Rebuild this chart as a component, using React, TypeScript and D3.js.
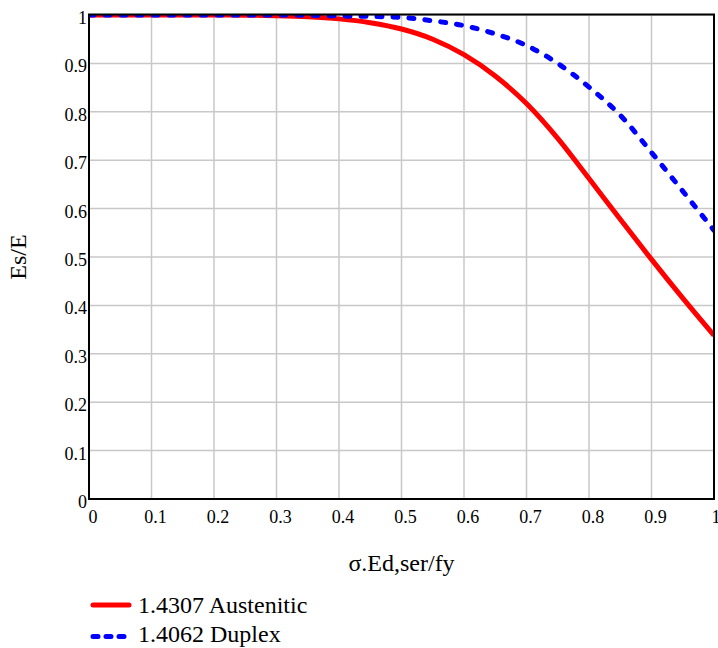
import React from "react";
import * as d3 from "d3";

const xValues = [0, 0.05, 0.1, 0.15, 0.2, 0.25, 0.3, 0.35, 0.4, 0.45, 0.5, 0.55, 0.6, 0.65, 0.7, 0.75, 0.8, 0.85, 0.9, 0.95, 1];
const austenitic = [1, 1, 1, 1, 0.9999, 0.9995, 0.9986, 0.9965, 0.992, 0.984, 0.971, 0.95, 0.918, 0.874, 0.817, 0.745, 0.662, 0.578, 0.495, 0.415, 0.338];
const duplex = [1, 1, 1, 1, 1, 1, 1, 0.9995, 0.998, 0.997, 0.995, 0.988, 0.978, 0.961, 0.937, 0.9, 0.851, 0.793, 0.716, 0.636, 0.555];
const xTicks = [0, 0.1, 0.2, 0.3, 0.4, 0.5, 0.6, 0.7, 0.8, 0.9, 1];
const xTickLabels = ["0", "0.1", "0.2", "0.3", "0.4", "0.5", "0.6", "0.7", "0.8", "0.9", "1"];
const yTicks = [0, 0.1, 0.2, 0.3, 0.4, 0.5, 0.6, 0.7, 0.8, 0.9, 1];
const yTickLabels = ["0", "0.1", "0.2", "0.3", "0.4", "0.5", "0.6", "0.7", "0.8", "0.9", "1"];
const seriesNames = ["1.4307 Austenitic", "1.4062 Duplex"];
const xTitle = "σ.Ed,ser/fy";
const yTitle = "Es/E";

const W = 718;
const H = 648;
const L = 89, R = 714, T = 15, B = 499;
const FONT = "'Liberation Serif', 'Times New Roman', serif";

export default function App() {
  const x = d3.scaleLinear().domain([0, 1]).range([L, R]);
  const y = d3.scaleLinear().domain([0, 1]).range([B, T]);
  const line = d3
    .line<number>()
    .x((_, i) => x(xValues[i]))
    .y((d) => y(d))
    .curve(d3.curveMonotoneX);

  return (
    <svg width={W} height={H} style={{ position: "absolute", left: 0, top: 0, background: "#fff" }} fontFamily={FONT}>
      <defs>
        <clipPath id="plotclip">
          <rect x={L} y={T} width={R - L} height={B - T} />
        </clipPath>
      </defs>
      <rect x={0} y={0} width={W} height={H} fill="#fff" />
      {xTicks.map((t, i) => (
        <line key={"gx" + i} x1={x(t)} x2={x(t)} y1={T} y2={B} stroke="#c8c8c8" strokeWidth={1.5} />
      ))}
      {yTicks.map((t, i) => (
        <line key={"gy" + i} x1={L} x2={R} y1={y(t)} y2={y(t)} stroke="#c8c8c8" strokeWidth={1.5} />
      ))}
      <g clipPath="url(#plotclip)">
        <path d={line(austenitic) || ""} fill="none" stroke="#ff0000" strokeWidth={5} strokeLinejoin="round" />
        <path d={line(duplex) || ""} fill="none" stroke="#0000ff" strokeWidth={5} strokeDasharray="5 11" strokeLinecap="round" strokeLinejoin="round" />
      </g>
      <rect x={L} y={T - 0.5} width={R - L} height={B - T + 0.5} fill="none" stroke="#000" strokeWidth={2} />
      {xTicks.map((t, i) => (
        <text key={"tx" + i} x={Math.min(x(t) + 4, 716)} y={523} textAnchor="middle" fontSize={18} fill="#000">
          {xTickLabels[i]}
        </text>
      ))}
      {yTicks.map((t, i) => (
        <text key={"ty" + i} x={87} y={y(t) + 9} textAnchor="end" fontSize={18} fill="#000">
          {yTickLabels[i]}
        </text>
      ))}
      <text x={(L + R) / 2} y={571} textAnchor="middle" fontSize={24} fill="#000">
        {xTitle}
      </text>
      <text transform={`translate(26, ${(T + B) / 2}) rotate(-90)`} textAnchor="middle" fontSize={24} fill="#000">
        {yTitle}
      </text>
      <line x1={93} x2={129} y1={605} y2={605} stroke="#ff0000" strokeWidth={5} strokeLinecap="round" />
      <text x={138} y={613} fontSize={24} fill="#000">{seriesNames[0]}</text>
      <line x1={93} x2={131} y1={636.5} y2={636.5} stroke="#0000ff" strokeWidth={5} strokeDasharray="5 8" strokeLinecap="round" />
      <text x={138} y={642} fontSize={24} fill="#000">{seriesNames[1]}</text>
    </svg>
  );
}
